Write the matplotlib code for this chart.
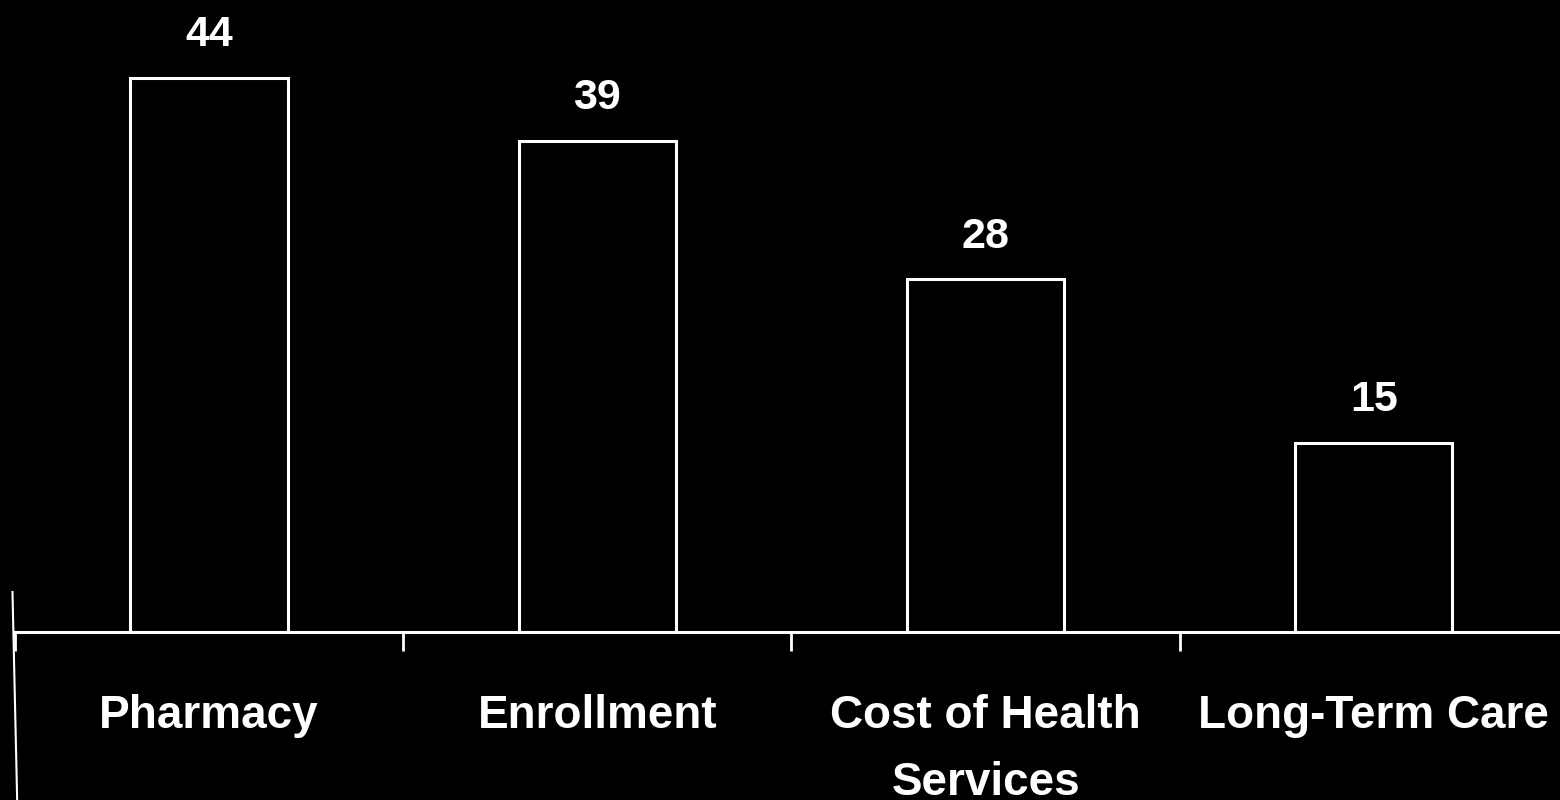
import matplotlib
matplotlib.use("Agg")
import matplotlib.pyplot as plt

categories = ["Pharmacy", "Enrollment", "Cost of Health\nServices", "Long-Term Care"]
values = [44, 39, 28, 15]

plt.rcParams['font.family'] = ['Liberation Sans', 'DejaVu Sans']

fig = plt.figure(figsize=(15.6, 8), dpi=100, facecolor='black')
ax = fig.add_axes([0.0096, 0.21, 0.9955, 0.79], facecolor='black')

x = list(range(len(categories)))
ax.bar(x, values, width=0.405, facecolor='black', edgecolor='white', linewidth=2.2)
for xi, v in zip(x, values):
    ax.text(xi, v + 3.4, str(v), ha='center', va='center', color='white',
            fontsize=31, fontweight='bold')

ax.set_xlim(-0.5, 3.5)
ax.set_ylim(0, 50.2)
ax.set_xticks(x)
ax.set_xticklabels(categories, fontsize=33, fontweight='bold', color='white',
                   linespacing=1.65)
ax.tick_params(axis='x', which='major', length=0, pad=45)
ax.set_xticks([-0.5, 0.5, 1.5, 2.5], minor=True)
ax.tick_params(axis='x', which='minor', length=14, width=2, color='white', direction='out')
ax.set_yticks([])
for s in ['top', 'right', 'left']:
    ax.spines[s].set_visible(False)
ax.spines['bottom'].set_color('white')
ax.spines['bottom'].set_linewidth(2.2)

fig.lines.append(plt.Line2D([0.008, 0.011], [0.26, 0.0], transform=fig.transFigure,
                            color='white', linewidth=1.5))

fig.savefig("out.png", dpi=100, facecolor='black')
